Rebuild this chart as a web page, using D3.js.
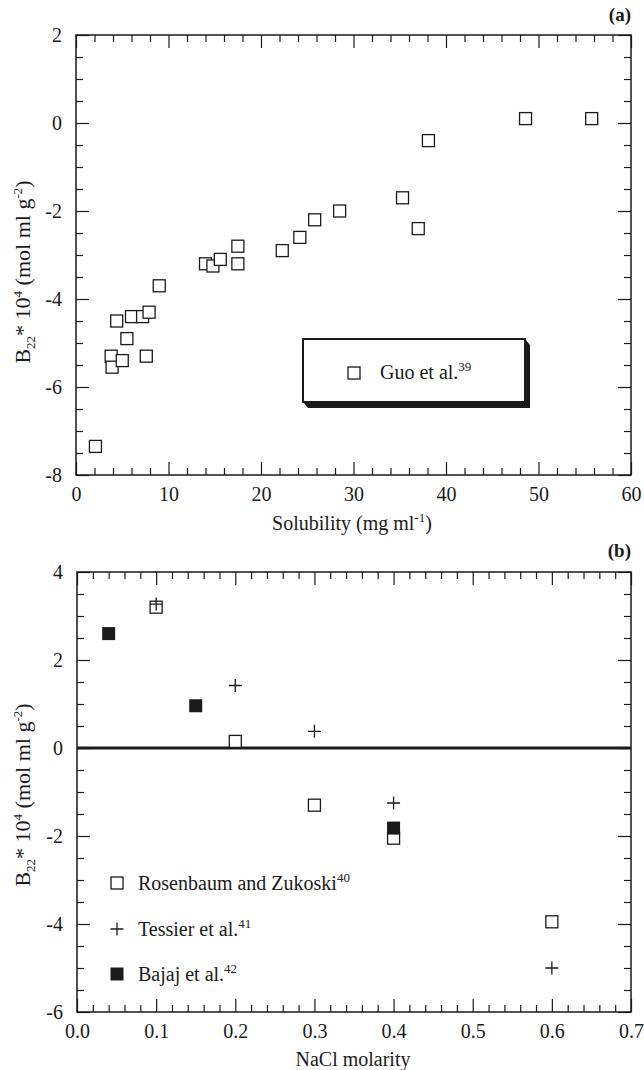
<!DOCTYPE html>
<meta charset="utf-8">
<script src="https://d3js.org/d3.v7.min.js"></script>
<style>
  body { margin: 0; background: #fff; }
  svg text { font-family: "Liberation Serif", "Times New Roman", serif; fill: #1a1a1a; }
</style>
<div id="chart"></div>
<script>

// ---- data (a): Guo et al. ----
var guoSolubility = [2.1, 3.8, 3.9, 5.0, 5.5, 7.6, 4.4, 6.0, 7.2, 7.9, 9.0, 14.0, 14.8, 15.6,
                     17.5, 17.5, 22.3, 24.2, 25.8, 28.5, 35.3, 37.0, 38.1, 48.6, 55.75];
var guoB22 = [-7.35, -5.3, -5.55, -5.4, -4.9, -5.3, -4.5, -4.4, -4.4, -4.3, -3.7, -3.2, -3.25, -3.1,
              -2.8, -3.2, -2.9, -2.6, -2.2, -2.0, -1.7, -2.4, -0.4, 0.1, 0.1];

// ---- data (b) ----
var rzMolarity = [0.1, 0.2, 0.3, 0.4, 0.6];
var rzB22 = [3.2, 0.15, -1.3, -2.05, -3.95];
var tessierMolarity = [0.1, 0.2, 0.3, 0.4, 0.6];
var tessierB22 = [3.27, 1.42, 0.38, -1.25, -5.0];
var bajajMolarity = [0.04, 0.15, 0.4];
var bajajB22 = [2.6, 0.96, -1.82];

// ---- ticks ----
var xMajorA = [0, 10, 20, 30, 40, 50, 60];
var yMajorA = [-8, -6, -4, -2, 0, 2];
var xMajorB = [0, 0.1, 0.2, 0.3, 0.4, 0.5, 0.6, 0.7];
var yMajorB = [-6, -4, -2, 0, 2, 4];

var ink = "#1a1a1a";

var svg = d3.select("#chart").append("svg")
    .attr("width", 644)
    .attr("height", 1070);

// helper: text with sub/superscripts
function rich(sel, parts) {
  parts.forEach(function(p) {
    var t = sel.append("tspan").text(p[0]);
    if (p[1] == "sup") t.attr("dy", -8).attr("font-size", 13);
    if (p[1] == "sub") t.attr("dy", 5).attr("font-size", 13);
    if (p[1] == "back") t.attr("dy", p[2]);
  });
}

// generic framed panel with inward ticks on all four sides
function panel(x, y, xMajor, xMinor, yMajor, yMinor, xFmt) {
  var x0 = x.range()[0], x1 = x.range()[1];
  var yb = y.range()[0], yt = y.range()[1];

  function style(g) {
    g.select(".domain").remove();
    g.selectAll("line").attr("stroke", ink).attr("stroke-width", 1.2);
    g.selectAll("text").attr("font-family", "Liberation Serif, serif")
      .attr("font-size", 20).attr("fill", ink);
  }

  svg.append("g").attr("transform", "translate(0," + yb + ")")
    .call(d3.axisBottom(x).tickValues(xMajor).tickSize(-13).tickSizeOuter(0).tickPadding(12).tickFormat(xFmt))
    .call(style);
  svg.append("g").attr("transform", "translate(0," + yb + ")")
    .call(d3.axisBottom(x).tickValues(xMinor).tickSize(-7).tickSizeOuter(0).tickFormat(""))
    .call(style);
  svg.append("g").attr("transform", "translate(0," + yt + ")")
    .call(d3.axisTop(x).tickValues(xMajor).tickSize(-13).tickSizeOuter(0).tickFormat(""))
    .call(style);
  svg.append("g").attr("transform", "translate(0," + yt + ")")
    .call(d3.axisTop(x).tickValues(xMinor).tickSize(-7).tickSizeOuter(0).tickFormat(""))
    .call(style);

  svg.append("g").attr("transform", "translate(" + x0 + ",0)")
    .call(d3.axisLeft(y).tickValues(yMajor).tickSize(-13).tickSizeOuter(0).tickPadding(14)
      .tickFormat(function(d) { return String(d); }))
    .call(style);
  svg.append("g").attr("transform", "translate(" + x0 + ",0)")
    .call(d3.axisLeft(y).tickValues(yMinor).tickSize(-7).tickSizeOuter(0).tickFormat(""))
    .call(style);
  svg.append("g").attr("transform", "translate(" + x1 + ",0)")
    .call(d3.axisRight(y).tickValues(yMajor).tickSize(-13).tickSizeOuter(0).tickFormat(""))
    .call(style);
  svg.append("g").attr("transform", "translate(" + x1 + ",0)")
    .call(d3.axisRight(y).tickValues(yMinor).tickSize(-7).tickSizeOuter(0).tickFormat(""))
    .call(style);

  svg.append("rect")
    .attr("x", x0).attr("y", yt)
    .attr("width", x1 - x0).attr("height", yb - yt)
    .attr("fill", "none").attr("stroke", ink).attr("stroke-width", 1.5);
}

function minorOf(lo, hi, step, majorStep) {
  var out = [];
  var n = Math.round((hi - lo) / step);
  for (var i = 0; i <= n; i++) {
    var v = lo + i * step;
    if (Math.abs(v / majorStep - Math.round(v / majorStep)) > 1e-6) out.push(+v.toFixed(4));
  }
  return out;
}

function yTitle(cx, cy) {
  var t = svg.append("text")
    .attr("transform", "translate(" + cx + "," + cy + ") rotate(-90)")
    .attr("text-anchor", "middle")
    .attr("font-size", 22);
  rich(t, [["B"], ["22", "sub"], ["*", "back", -5], [" 10", null], ["4", "sup"],
           [" (mol ml g", "back", 8], ["-2", "sup"], [")", "back", 8]]);
}

// ================= panel (a) =================
var xA = d3.scaleLinear().domain([0, 60]).range([76, 631]);
var yA = d3.scaleLinear().domain([-8, 2]).range([475, 35]);

panel(xA, yA, xMajorA, minorOf(0, 60, 2, 10), yMajorA, minorOf(-8, 2, 0.5, 2),
      function(d) { return String(d); });

svg.selectAll(".guo")
  .data(d3.range(guoSolubility.length))
  .enter().append("rect")
    .attr("x", function(i) { return xA(guoSolubility[i]) - 6; })
    .attr("y", function(i) { return yA(guoB22[i]) - 6; })
    .attr("width", 12).attr("height", 12)
    .attr("fill", "#fff").attr("stroke", ink).attr("stroke-width", 1.3);

// legend box with drop shadow
var lb = {x: 303, y: 339, w: 222, h: 63};
svg.append("polygon")
  .attr("points", [[lb.x + lb.w, lb.y], [lb.x + lb.w + 5, lb.y + 6], [lb.x + lb.w + 5, lb.y + lb.h + 6],
                   [lb.x + 5, lb.y + lb.h + 6], [lb.x, lb.y + lb.h]].join(" "))
  .attr("fill", ink);
svg.append("rect")
  .attr("x", lb.x).attr("y", lb.y).attr("width", lb.w).attr("height", lb.h)
  .attr("fill", "#fff").attr("stroke", ink).attr("stroke-width", 2);
svg.append("rect")
  .attr("x", 348).attr("y", 367).attr("width", 12).attr("height", 12)
  .attr("fill", "#fff").attr("stroke", ink).attr("stroke-width", 1.3);
rich(svg.append("text").attr("x", 380).attr("y", 379).attr("font-size", 20),
     [["Guo et al."], ["39", "sup"]]);

svg.append("text").attr("x", 631).attr("y", 21).attr("text-anchor", "end")
  .attr("font-size", 19).attr("font-weight", "bold").text("(a)");

rich(svg.append("text").attr("x", 352).attr("y", 530).attr("text-anchor", "middle").attr("font-size", 20),
     [["Solubility (mg ml"], ["-1", "sup"], [")", "back", 8]]);

yTitle(30, 272);

// ================= panel (b) =================
var xB = d3.scaleLinear().domain([0, 0.7]).range([77, 631]);
var yB = d3.scaleLinear().domain([-6, 4]).range([1012, 572]);

panel(xB, yB, xMajorB, minorOf(0, 0.7, 0.02, 0.1), yMajorB, minorOf(-6, 4, 0.5, 2),
      function(d) { return d.toFixed(1); });

// zero line
svg.append("line")
  .attr("x1", xB(0)).attr("x2", xB(0.7))
  .attr("y1", yB(0)).attr("y2", yB(0))
  .attr("stroke", ink).attr("stroke-width", 3);

svg.selectAll(".rz")
  .data(d3.range(rzMolarity.length))
  .enter().append("rect")
    .attr("x", function(i) { return xB(rzMolarity[i]) - 6; })
    .attr("y", function(i) { return yB(rzB22[i]) - 6; })
    .attr("width", 12).attr("height", 12)
    .attr("fill", "#fff").attr("stroke", ink).attr("stroke-width", 1.3);

svg.selectAll(".bajaj")
  .data(d3.range(bajajMolarity.length))
  .enter().append("rect")
    .attr("x", function(i) { return xB(bajajMolarity[i]) - 6.5; })
    .attr("y", function(i) { return yB(bajajB22[i]) - 6.5; })
    .attr("width", 13).attr("height", 13)
    .attr("fill", ink);

svg.selectAll(".tessier")
  .data(d3.range(tessierMolarity.length))
  .enter().append("path")
    .attr("d", "M-6.5,0H6.5M0,-6.5V6.5")
    .attr("transform", function(i) { return "translate(" + xB(tessierMolarity[i]) + "," + yB(tessierB22[i]) + ")"; })
    .attr("fill", "none").attr("stroke", ink).attr("stroke-width", 1.3);

// legend (b)
svg.append("rect").attr("x", 111).attr("y", 877).attr("width", 12).attr("height", 12)
  .attr("fill", "#fff").attr("stroke", ink).attr("stroke-width", 1.3);
rich(svg.append("text").attr("x", 138).attr("y", 890).attr("font-size", 20),
     [["Rosenbaum and Zukoski"], ["40", "sup"]]);
svg.append("path").attr("d", "M110.5,929H123.5M117,922.5V935.5")
  .attr("fill", "none").attr("stroke", ink).attr("stroke-width", 1.3);
rich(svg.append("text").attr("x", 138).attr("y", 936).attr("font-size", 20),
     [["Tessier et al."], ["41", "sup"]]);
svg.append("rect").attr("x", 110.5).attr("y", 967.5).attr("width", 13).attr("height", 13)
  .attr("fill", ink);
rich(svg.append("text").attr("x", 138).attr("y", 981).attr("font-size", 20),
     [["Bajaj et al."], ["42", "sup"]]);

svg.append("text").attr("x", 631).attr("y", 557).attr("text-anchor", "end")
  .attr("font-size", 19).attr("font-weight", "bold").text("(b)");

svg.append("text").attr("x", 353).attr("y", 1066).attr("text-anchor", "middle")
  .attr("font-size", 20).text("NaCl molarity");

yTitle(30, 795);

</script>
